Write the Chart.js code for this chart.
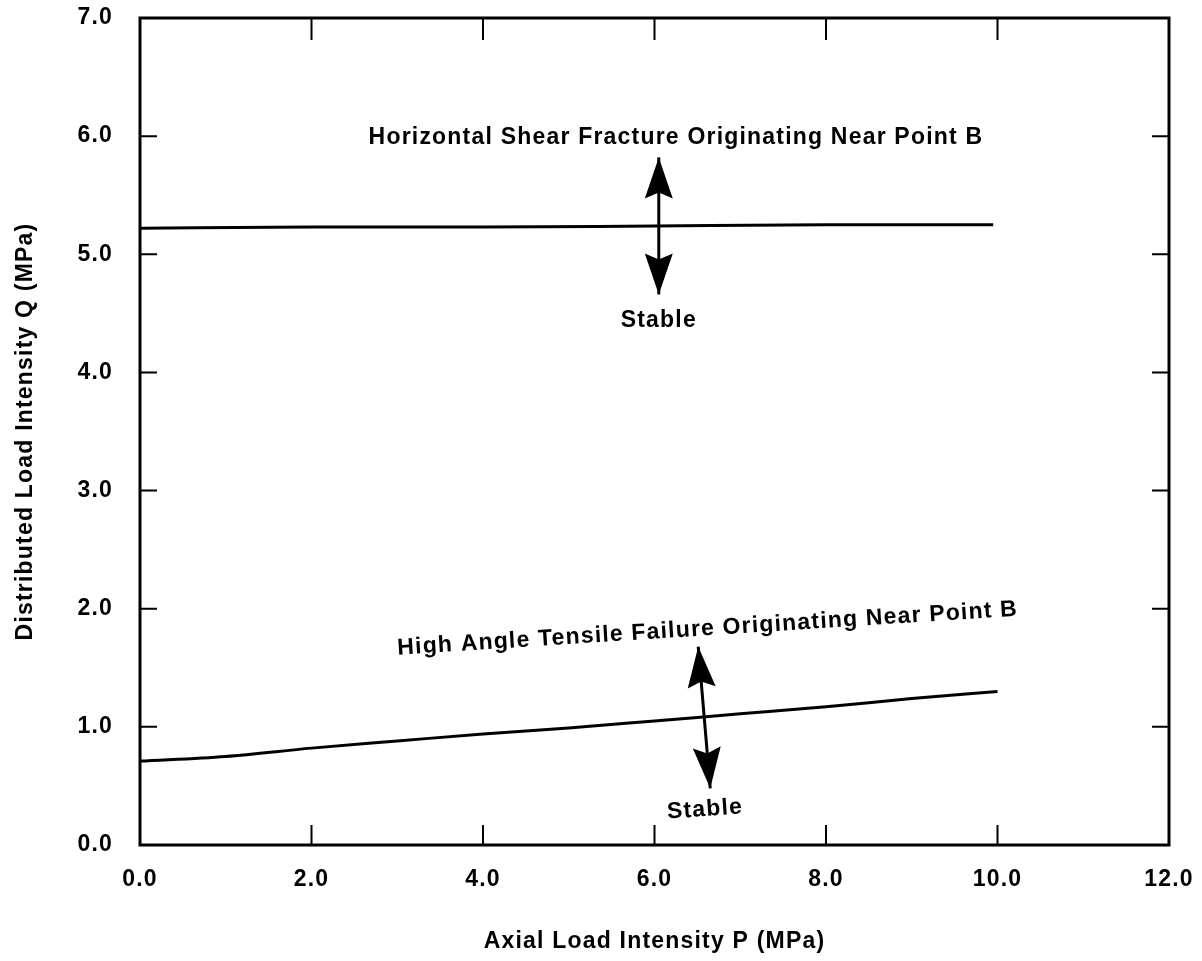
<!DOCTYPE html>
<html>
<head>
<meta charset="utf-8">
<script src="https://cdn.jsdelivr.net/npm/chart.js@4.4.1/dist/chart.umd.min.js"></script>
<style>
html,body{margin:0;padding:0;background:#fff;}
#wrap{width:1202px;height:961px;}
</style>
</head>
<body>
<div id="wrap"><canvas id="c" width="1202" height="961"></canvas></div>
<script>
// ---- data ----
const xTickValues = [0, 2, 4, 6, 8, 10, 12];
const yTickValues = [0, 1, 2, 3, 4, 5, 6, 7];
const shearP = [0, 2, 4, 6, 8, 9.95];
const shearQ = [5.22, 5.23, 5.23, 5.24, 5.25, 5.25];
const tensileP = [0, 1, 2, 3, 4, 5, 6, 7, 8, 9, 10];
const tensileQ = [0.71, 0.75, 0.82, 0.88, 0.94, 0.99, 1.05, 1.11, 1.17, 1.24, 1.30];
const xTitle = 'Axial Load Intensity P (MPa)';
const yTitle = 'Distributed Load Intensity Q (MPa)';
const noteTexts = [
  'Horizontal Shear Fracture Originating Near Point B',
  'Stable',
  'High Angle Tensile Failure Originating Near Point B',
  'Stable'
];
// annotation anchors in data units (P, Q) and rotation (deg)
const noteP = [6.25, 6.05, 6.62, 6.59];
const noteQ = [5.99, 4.44, 1.83, 0.30];
const noteRot = [0, 0, -3.6, -4];
// double arrows in data units
const arrowP1 = [6.05, 6.51];
const arrowQ1 = [5.82, 1.68];
const arrowP2 = [6.05, 6.65];
const arrowQ2 = [4.66, 0.48];

const FONT = {family: '"Liberation Sans", Arial, Helvetica, sans-serif', size: 23, weight: 'bold'};
const FONT_CSS = 'bold 23px "Liberation Sans", Arial, Helvetica, sans-serif';

function drawHead(ctx, tx, ty, fx, fy) {
  const a = Math.atan2(ty - fy, tx - fx);
  const L = 41, W = 14, N = 35;
  const c = Math.cos(a), s = Math.sin(a);
  const bx = tx - L * c, by = ty - L * s;
  const nx = tx - N * c, ny = ty - N * s;
  ctx.beginPath();
  ctx.moveTo(tx, ty);
  ctx.lineTo(bx - W * s, by + W * c);
  ctx.lineTo(nx, ny);
  ctx.lineTo(bx + W * s, by - W * c);
  ctx.closePath();
  ctx.fill();
}

const framePlugin = {
  id: 'frame',
  beforeDraw(chart) {
    chart.ctx.letterSpacing = '1.2px';
  },
  afterDatasetsDraw(chart) {
    const ctx = chart.ctx;
    const xs = chart.scales.x, ys = chart.scales.y;
    const a = chart.chartArea;
    ctx.save();
    ctx.strokeStyle = '#000';
    ctx.fillStyle = '#000';
    // frame
    ctx.lineWidth = 3;
    ctx.strokeRect(a.left, a.top, a.right - a.left, a.bottom - a.top);
    // inward ticks
    ctx.lineWidth = 2;
    ctx.beginPath();
    xTickValues.forEach(v => {
      if (v === xs.min || v === xs.max) return;
      const px = xs.getPixelForValue(v);
      ctx.moveTo(px, a.bottom); ctx.lineTo(px, a.bottom - 20);
      ctx.moveTo(px, a.top); ctx.lineTo(px, a.top + 22);
    });
    yTickValues.forEach(v => {
      if (v === ys.min || v === ys.max) return;
      const py = ys.getPixelForValue(v);
      ctx.moveTo(a.left, py); ctx.lineTo(a.left + 17, py);
      ctx.moveTo(a.right, py); ctx.lineTo(a.right - 17, py);
    });
    ctx.stroke();
    // arrows
    ctx.lineWidth = 3;
    for (let i = 0; i < arrowP1.length; i++) {
      const x1 = xs.getPixelForValue(arrowP1[i]), y1 = ys.getPixelForValue(arrowQ1[i]);
      const x2 = xs.getPixelForValue(arrowP2[i]), y2 = ys.getPixelForValue(arrowQ2[i]);
      ctx.beginPath(); ctx.moveTo(x1, y1); ctx.lineTo(x2, y2); ctx.stroke();
      drawHead(ctx, x1, y1, x2, y2);
      drawHead(ctx, x2, y2, x1, y1);
    }
    // notes
    ctx.font = FONT_CSS;
    ctx.textAlign = 'center';
    ctx.textBaseline = 'middle';
    for (let i = 0; i < noteTexts.length; i++) {
      const px = xs.getPixelForValue(noteP[i]), py = ys.getPixelForValue(noteQ[i]);
      ctx.save();
      ctx.translate(px, py);
      ctx.rotate(noteRot[i] * Math.PI / 180);
      ctx.fillText(noteTexts[i], 0, 0);
      ctx.restore();
    }
    ctx.restore();
  }
};

const ctx = document.getElementById('c').getContext('2d');
new Chart(ctx, {
  type: 'scatter',
  data: {
    datasets: [
      {
        data: shearP.map((x, i) => ({x: x, y: shearQ[i]})),
        showLine: true, borderColor: '#000', backgroundColor: '#000',
        borderWidth: 3, pointRadius: 0, cubicInterpolationMode: 'monotone'
      },
      {
        data: tensileP.map((x, i) => ({x: x, y: tensileQ[i]})),
        showLine: true, borderColor: '#000', backgroundColor: '#000',
        borderWidth: 3, pointRadius: 0, cubicInterpolationMode: 'monotone'
      }
    ]
  },
  options: {
    responsive: false,
    animation: false,
    layout: {padding: {left: 8, right: 33, top: 18, bottom: 0}},
    plugins: {legend: {display: false}, tooltip: {enabled: false}},
    scales: {
      x: {
        type: 'linear', min: 0, max: 12,
        afterBuildTicks: s => { s.ticks = xTickValues.map(v => ({value: v})); },
        afterFit: s => { s.height = 116; s.paddingLeft = 0; s.paddingRight = 0; },
        grid: {display: false},
        border: {display: false},
        ticks: {
          callback: v => Number(v).toFixed(1), padding: 13, color: '#000',
          font: FONT, maxRotation: 0, autoSkip: false
        },
        title: {display: true, text: xTitle, color: '#000', font: FONT, padding: {top: 4, bottom: 6}}
      },
      y: {
        type: 'linear', min: 0, max: 7,
        afterBuildTicks: s => { s.ticks = yTickValues.map(v => ({value: v})); },
        afterFit: s => { s.width = 132; s.paddingTop = 0; s.paddingBottom = 0; },
        grid: {display: false},
        border: {display: false},
        ticks: {
          callback: v => Number(v).toFixed(1), padding: 19, color: '#000',
          font: FONT, autoSkip: false
        },
        title: {display: true, text: yTitle, color: '#000', font: FONT, padding: {top: 4, bottom: 4}}
      }
    }
  },
  plugins: [framePlugin]
});
</script>
</body>
</html>
